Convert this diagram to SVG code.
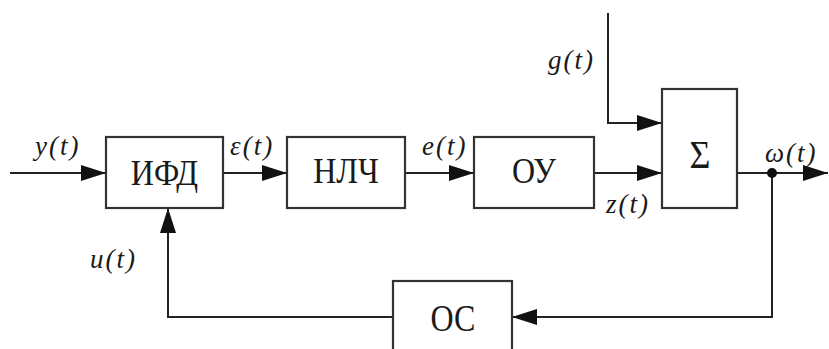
<svg xmlns="http://www.w3.org/2000/svg" width="829" height="349" viewBox="0 0 829 349">
<style>
.box{fill:#fff;stroke:#333;stroke-width:2.2}
.ln{fill:none;stroke:#222;stroke-width:2}
.bt{font-size:32px;fill:#1a1a1a;text-anchor:middle}
.lb{font-style:italic;font-size:27px;fill:#1a1a1a;letter-spacing:2px}
</style>
<defs>
<marker id="ah" markerUnits="userSpaceOnUse" markerWidth="26" markerHeight="18" refX="25" refY="8" orient="auto">
<path d="M0,0 L25,8 L0,16 Z" fill="#111"/>
</marker>
</defs>
<rect width="829" height="349" fill="#fff"/>
<g id="connectors">
<path class="ln" d="M10,173 H106" marker-end="url(#ah)"/>
<path class="ln" d="M223,173 H287" marker-end="url(#ah)"/>
<path class="ln" d="M405,173 H474" marker-end="url(#ah)"/>
<path class="ln" d="M594,173 H662" marker-end="url(#ah)"/>
<path class="ln" d="M608,13 V123 H662" marker-end="url(#ah)"/>
<path class="ln" d="M737,173 H828" marker-end="url(#ah)"/>
<path class="ln" d="M772,173 V317 H512" marker-end="url(#ah)"/>
<path class="ln" d="M393,317 H168 V208" marker-end="url(#ah)"/>
<circle cx="772" cy="173" r="5" fill="#111"/>
</g>
<g font-family="DejaVu Serif, serif">
<g id="ifd">
<rect class="box" x="106" y="137" width="117" height="71"/>
<text class="bt" font-family="Liberation Serif" transform="translate(164.5,185) scale(1,1.15)">ИФД</text>
</g>
<g id="nlch">
<rect class="box" x="287" y="137" width="118" height="71"/>
<text class="bt" font-family="Liberation Serif" transform="translate(346,183) scale(1,1.15)">НЛЧ</text>
</g>
<g id="ou">
<rect class="box" x="474" y="137" width="120" height="71"/>
<text class="bt" font-family="Liberation Serif" transform="translate(534,183) scale(1,1.15)">ОУ</text>
</g>
<g id="sum">
<rect class="box" x="662" y="89" width="75" height="119"/>
<text class="bt" font-family="Liberation Serif" style="font-size:36px" transform="translate(700,168) scale(1,1.1)">Σ</text>
</g>
<g id="os">
<rect class="box" x="393" y="281" width="119" height="80"/>
<text class="bt" font-family="Liberation Serif" transform="translate(453,331) scale(1,1.2)">ОС</text>
</g>
<g id="labels" font-family="Liberation Serif">
<text class="lb" x="35" y="155">y(t)</text>
<text class="lb" x="230" y="155">ε(t)</text>
<text class="lb" x="422" y="155">e(t)</text>
<text class="lb" x="548" y="69">g(t)</text>
<text class="lb" x="606" y="213">z(t)</text>
<text class="lb" x="765" y="162">ω(t)</text>
<text class="lb" x="90" y="268">u(t)</text>
</g>
</g>
</svg>
